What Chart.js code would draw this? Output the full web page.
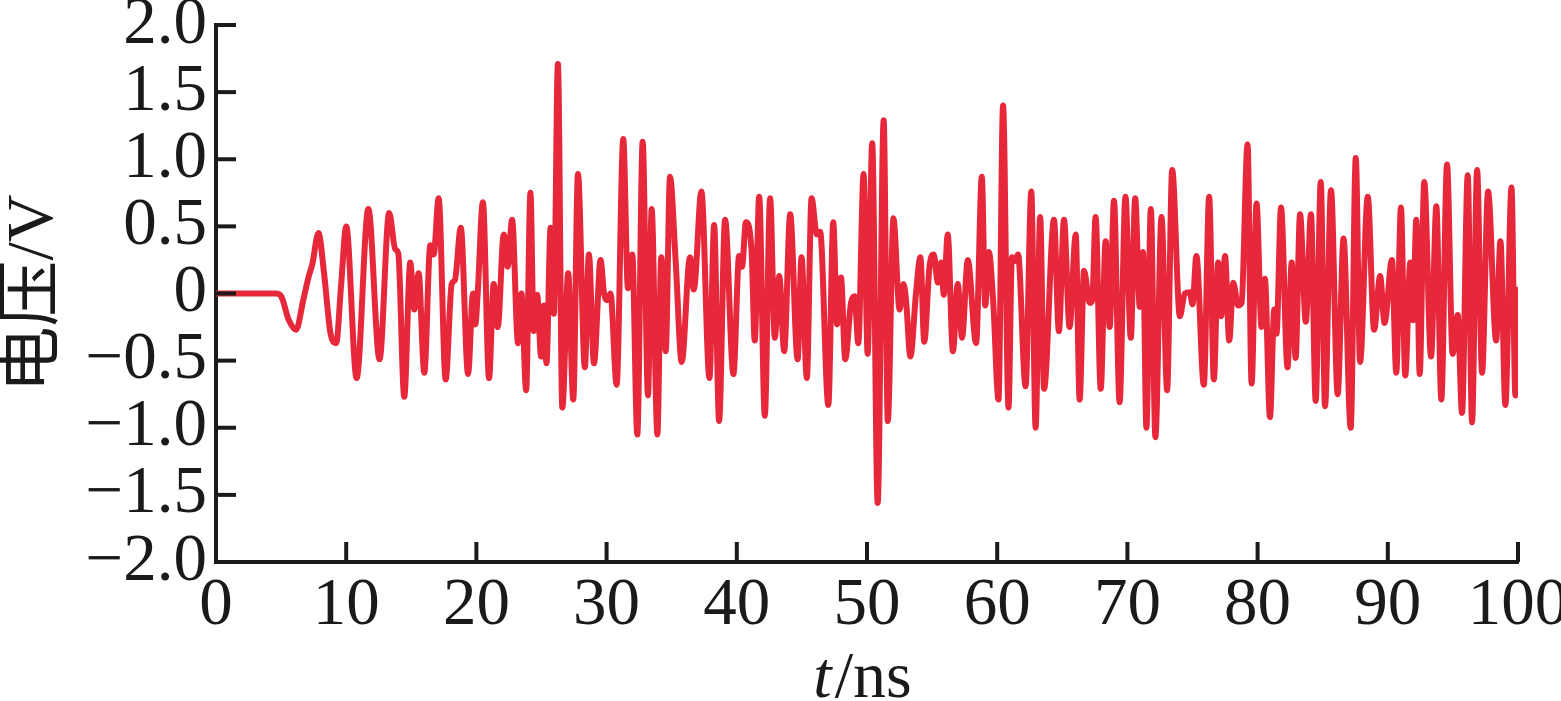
<!DOCTYPE html>
<html><head><meta charset="utf-8">
<script src="https://cdn.jsdelivr.net/npm/chart.js@4.4.1/dist/chart.umd.min.js"></script>
<style>html,body{margin:0;padding:0;background:#fff;}#wrap{width:1561px;height:701px;}</style>
</head><body><div id="wrap"><canvas id="c" width="1561" height="701"></canvas></div>
<script>
const timeNs = [0,4.6,5.0,5.6,6.15,6.7,7.1,7.4,7.87,8.3,8.8,9.23,9.6,10.0,10.8,11.7,12.56,13.3,13.77,14.0,14.46,14.92,15.23,15.56,16.0,16.46,16.72,17.1,17.64,18.1,18.35,18.8,19.36,19.74,19.92,20.1,20.5,20.97,21.33,21.64,22.1,22.4,22.74,23.2,23.46,23.82,24.15,24.4,24.67,24.97,25.18,25.38,25.7,25.95,26.26,26.6,27.05,27.44,27.8,28.33,28.64,29.03,29.54,29.8,30.05,30.3,30.77,31.28,31.64,31.97,32.36,32.77,33.18,33.46,33.9,34.2,34.54,34.87,35.3,35.77,36.4,36.7,37.28,37.9,38.26,38.64,39.1,39.74,40.18,40.4,40.7,41.13,41.38,41.72,42.15,42.56,42.92,43.26,43.64,44.1,44.67,44.97,45.38,45.74,46.15,46.4,47.03,47.41,47.7,48.0,48.33,48.77,49.05,49.33,49.74,50.05,50.4,50.82,51.28,51.6,52.03,52.5,52.8,53.0,53.33,53.77,54.1,54.4,54.8,55.13,55.44,55.7,55.9,56.2,56.6,56.97,57.3,57.74,58.38,58.82,59.08,59.36,59.7,60.1,60.45,60.87,61.13,61.35,61.6,62.18,62.62,62.95,63.3,63.6,64.36,64.74,65.13,65.56,66.03,66.33,66.67,67.1,67.3,67.56,67.95,68.33,68.64,68.97,69.4,69.85,70.26,70.6,70.95,71.2,71.46,71.8,72.15,72.62,73.05,73.44,74.03,74.4,74.8,75.0,75.3,75.87,76.28,76.64,76.97,77.2,77.5,77.82,78.13,78.5,78.77,79.23,79.54,79.92,80.3,80.56,80.95,81.28,81.45,81.8,82.3,82.62,82.92,83.26,83.7,84.1,84.46,84.85,85.18,85.64,86.15,86.6,87.15,87.54,87.87,88.46,88.95,89.41,89.75,90.32,90.65,91.01,91.34,91.73,91.93,92.19,92.45,92.8,93.32,93.73,94.11,94.55,94.98,95.37,95.7,96.14,96.47,96.86,97.24,97.7,98.32,98.65,99.03,99.5,99.8,100];
const voltage = [0,0,-0.02,-0.2,-0.27,-0.05,0.12,0.22,0.45,0.15,-0.3,-0.37,0.05,0.5,-0.63,0.63,-0.49,0.6,0.33,0.3,-0.77,0.23,-0.12,0.15,-0.59,0.36,0.29,0.71,-0.64,0.07,0.1,0.49,-0.6,0.0,-0.23,0.0,0.68,-0.63,0.07,-0.25,0.44,0.2,0.55,-0.37,0.0,-0.72,0.75,-0.28,-0.01,-0.47,-0.09,-0.52,0.49,-0.15,1.71,-0.85,0.15,-0.79,0.89,-0.55,0.29,-0.52,0.25,0.0,-0.05,0.0,-0.68,1.15,0.04,0.29,-1.05,1.13,-0.76,0.63,-1.05,0.27,-0.43,0.87,0.25,-0.51,0.27,0.03,0.76,-0.63,0.51,-0.95,0.55,-0.6,0.28,0.2,0.53,0.33,-0.35,0.72,-0.91,0.71,-0.33,0.13,-0.43,0.59,-0.49,0.27,-0.63,0.71,0.44,0.46,-0.83,0.53,-0.23,0.12,-0.49,-0.07,-0.02,-0.37,0.89,-0.45,1.12,-1.56,1.29,-0.95,0.56,-0.12,0.07,-0.05,-0.47,0.01,0.27,-0.36,0.2,0.29,0.08,0.23,-0.01,0.44,-0.43,0.07,-0.33,0.25,-0.37,0.87,-0.09,0.31,-0.07,-0.79,1.4,-0.85,0.27,0.24,0.29,-0.69,0.76,-1.0,0.57,-0.71,0.55,-0.28,0.55,-0.25,0.44,-0.79,0.17,-0.07,-0.05,0.57,-0.71,0.39,-0.25,0.69,-0.81,0.72,-0.33,0.71,-0.1,0.31,-1.0,0.63,-1.07,0.57,-0.72,0.92,-0.17,0.0,0.01,-0.08,0.28,-0.68,0.72,-0.64,0.23,-0.17,0.28,-0.35,0.08,-0.09,-0.07,1.11,-0.67,0.67,-0.25,0.11,-0.92,-0.12,-0.3,0.64,-0.55,0.23,-0.48,0.59,-0.21,0.59,-0.8,0.83,-0.84,0.77,-0.75,0.41,-1.0,1.01,-0.51,0.72,-0.27,0.13,-0.22,0.25,-0.59,0.64,-0.61,0.23,-0.2,0.55,-0.6,0.83,-0.47,0.65,-0.79,0.96,-0.45,-0.16,-0.89,0.88,-0.96,0.92,-0.59,0.76,-0.35,0.39,-0.83,0.79,-0.76,0.05];
const xTickValues = [0,10,20,30,40,50,60,70,80,90,100];
const xTickLabels = ['0','10','20','30','40','50','60','70','80','90','100'];
const yTickValues = [-2,-1.5,-1,-0.5,0,0.5,1,1.5,2];
const yTickLabels = ['\u22122.0','\u22121.5','\u22121.0','\u22120.5','0','0.5','1.0','1.5','2.0'];
const yTitle = '电压/V';
const xTitleVar = 't';
const xTitleUnit = '/ns';

const AXIS = '#1a1a1a';
const SERIF = '"Liberation Serif", "Times New Roman", serif';
const CJK = '"Liberation Serif", "Noto Sans CJK SC", serif';

const inwardTicks = {
  id: 'inwardTicks',
  afterDraw(chart) {
    const {ctx, chartArea, scales} = chart;
    ctx.save();
    ctx.strokeStyle = AXIS; ctx.lineWidth = 4; ctx.lineCap = 'butt';
    scales.x.ticks.forEach(t => {
      if (t.value === 0) return;
      const px = scales.x.getPixelForValue(t.value);
      ctx.beginPath(); ctx.moveTo(px, chartArea.bottom); ctx.lineTo(px, chartArea.bottom - 20); ctx.stroke();
    });
    scales.y.ticks.forEach(t => {
      if (t.value === -2) return;
      const py = scales.y.getPixelForValue(t.value);
      ctx.beginPath(); ctx.moveTo(chartArea.left, py); ctx.lineTo(chartArea.left + 20, py); ctx.stroke();
    });
    // x axis title: italic variable + upright unit
    ctx.fillStyle = AXIS;
    ctx.textBaseline = 'alphabetic';
    const fItal = 'italic 66px ' + SERIF, fReg = '66px ' + SERIF;
    ctx.font = fItal; const w1 = ctx.measureText(xTitleVar).width;
    ctx.font = fReg; const w2 = ctx.measureText(xTitleUnit).width;
    const cx = (chartArea.left + chartArea.right) / 2 - 6;
    const x0 = cx - (w1 + w2) / 2;
    const base = 697;
    ctx.font = fItal; ctx.fillText(xTitleVar, x0, base);
    ctx.font = fReg; ctx.fillText(xTitleUnit, x0 + w1 + 3, base);
    ctx.restore();
  }
};

new Chart(document.getElementById('c'), {
  type: 'line',
  data: {
    datasets: [{
      data: timeNs.map((t, i) => ({x: t, y: voltage[i]})),
      borderColor: '#e6283a',
      borderWidth: 6,
      pointRadius: 0,
      fill: false,
      cubicInterpolationMode: 'monotone'
    }]
  },
  options: {
    responsive: false,
    animation: false,
    devicePixelRatio: 1,
    layout: {padding: {left: 0, top: 25, right: 43, bottom: 0}},
    plugins: {legend: {display: false}, tooltip: {enabled: false}},
    scales: {
      x: {
        type: 'linear', min: 0, max: 100,
        afterBuildTicks: s => { s.ticks = xTickValues.map(v => ({value: v})); },
        afterFit: s => { s.height = 139; s.paddingLeft = 0; s.paddingRight = 0; },
        grid: {display: false, drawTicks: false},
        border: {display: true, color: AXIS, width: 4},
        ticks: {
          autoSkip: false, maxRotation: 0, padding: 4, color: AXIS,
          font: {family: SERIF, size: 67},
          callback: (v, i) => xTickLabels[i]
        }
      },
      y: {
        type: 'linear', min: -2, max: 2,
        afterBuildTicks: s => { s.ticks = yTickValues.map(v => ({value: v})); },
        afterFit: s => { s.width = 216; s.paddingTop = 0; s.paddingBottom = 0; },
        grid: {display: false, drawTicks: false},
        border: {display: true, color: AXIS, width: 4},
        ticks: {
          autoSkip: false, padding: 9, color: AXIS,
          font: {family: SERIF, size: 67},
          callback: (v, i) => yTickLabels[i]
        },
        title: {
          display: true, text: yTitle, color: AXIS,
          font: {family: CJK, size: 66, lineHeight: 1.06},
          padding: {top: 0, bottom: 0}
        }
      }
    }
  },
  plugins: [inwardTicks]
});
</script>
</body></html>
